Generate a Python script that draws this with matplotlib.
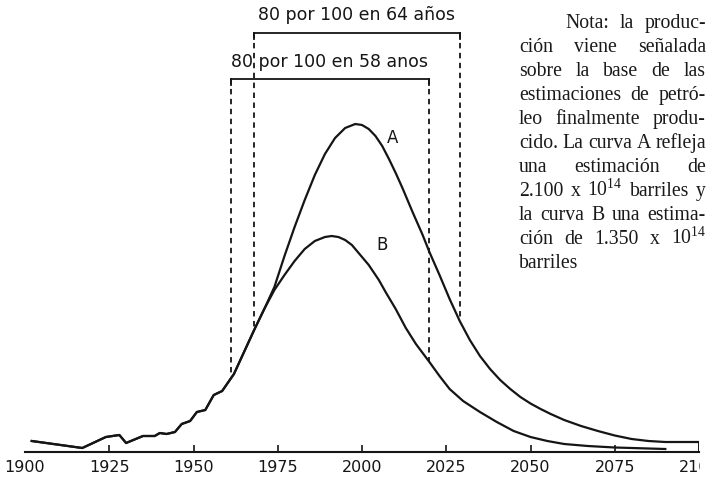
import numpy as np
import matplotlib
matplotlib.use('Agg')
from matplotlib import pyplot as plt
from matplotlib.transforms import Bbox

plt.rcParams['mathtext.fontset'] = 'custom'
plt.rcParams['mathtext.rm'] = 'Liberation Serif'

# Producción histórica (común a las dos curvas), unidades arbitrarias
anos_hist = [1902, 1917, 1924, 1928, 1930, 1935, 1938.5, 1940, 1942, 1944.5,
             1946.5, 1949, 1951, 1953.5, 1956, 1958.5, 1962]
prod_hist = [11, 4, 15, 17, 9, 16, 16, 19, 18, 20, 28, 31, 40, 42, 57, 61, 78]

# Curva A (2.100 x 10^14 barriles)
anos_a = [1962, 1965, 1968, 1971, 1974, 1977, 1980, 1983, 1986, 1989, 1992, 1995,
          1998, 2000, 2002, 2004, 2006, 2008, 2010, 2012, 2015, 2018, 2020, 2023,
          2026, 2029, 2032, 2035, 2038, 2041, 2044, 2047, 2050, 2053, 2056, 2060,
          2065, 2070, 2075, 2080, 2085, 2090, 2095, 2100]
prod_a = [78, 100, 122, 143, 165, 196, 225, 252, 277, 298, 314, 324,
          328, 327, 323, 316, 306, 293, 279, 264, 240, 217, 200, 177,
          153, 131, 112, 96, 83, 72, 63, 55, 48.5, 43, 38, 32,
          26, 21, 16.5, 13, 11, 10, 10, 10]

# Curva B (1.350 x 10^14 barriles)
anos_b = [1962, 1965, 1968, 1971, 1974, 1977, 1980, 1983, 1986, 1989, 1991, 1993,
          1995, 1997, 1999, 2002, 2005, 2007, 2010, 2013, 2016, 2020, 2023, 2026,
          2030, 2035, 2040, 2045, 2050, 2055, 2060, 2067, 2075, 2085, 2090]
prod_b = [78, 100, 122, 143, 162, 177, 191, 203, 211, 215, 216, 215,
          212, 207, 199, 187, 172, 160, 143, 124, 108, 90, 76, 63,
          51, 40, 30, 21, 15, 11, 8, 6, 4.5, 3.5, 3]

# Intervalos del 80 por 100 de la producción
intervalo_a = [1968, 2029]
intervalo_b = [1961, 2020]
texto_a = '80 por 100 en 64 años'
texto_b = '80 por 100 en 58 anos'

anos_ticks = [1900, 1925, 1950, 1975, 2000, 2025, 2050, 2075, 2100]

nota_lineas = [
    'Nota: la produc-',
    'ción viene señalada',
    'sobre la base de las',
    'estimaciones de petró-',
    'leo finalmente produ-',
    'cido. La curva A refleja',
    'una estimación de',
    '2.100 x 10$^{14}$ barriles y',
    'la curva B una estima-',
    'ción de 1.350 x 10$^{14}$',
    'barriles',
]

W, H = 717, 481
tinta = '#151515'
fig = plt.figure(figsize=(W / 100, H / 100), dpi=100)
ax = fig.add_axes([25 / W, (H - 453) / H, 674 / W, 453 / H])
ax.set_xlim(1900, 2100)
ax.set_ylim(0, 453)

# curvas
anos_ha = anos_hist + anos_a[1:]
prod_ha = prod_hist + prod_a[1:]
anos_hb = anos_hist + anos_b[1:]
prod_hb = prod_hist + prod_b[1:]
ax.plot(anos_hb, prod_hb, color=tinta, lw=1.6, solid_joinstyle='round')
ax.plot(anos_ha, prod_ha, color=tinta, lw=1.6, solid_joinstyle='round')
ax.vlines(anos_a[-1], 0, prod_a[-1], color=tinta, lw=1.4)

# lineas discontinuas y corchetes
guion = (0, (3, 2.5))
for (x0, x1), yb, txt, yt, ax_, py in [(intervalo_a, 419, texto_a, 438, anos_ha, prod_ha),
                                       (intervalo_b, 373, texto_b, 391, anos_hb, prod_hb)]:
    for x in (x0, x1):
        yc = np.interp(x, ax_, py)
        ax.plot([x, x], [yb, yc], color=tinta, lw=1.3, ls=guion)
        ax.plot([x, x], [yb, yb - 6], color=tinta, lw=1.3)
    ax.plot([x0, x1], [yb, yb], color=tinta, lw=1.3)
    ax.text((x0 + x1) / 2, yt, txt, ha='center', va='center', fontsize=12.5,
            family='DejaVu Sans', color=tinta)

ax.text(2009, 315, 'A', fontsize=12, ha='center', va='center', color=tinta)
ax.text(2006, 208, 'B', fontsize=12, ha='center', va='center', color=tinta)

# eje
for lado in ['left', 'right', 'top']:
    ax.spines[lado].set_visible(False)
ax.spines['bottom'].set_linewidth(1.5)
ax.spines['bottom'].set_color(tinta)
ax.set_yticks([])
ax.set_xticks(anos_ticks)
ax.set_xticklabels([str(a) for a in anos_ticks], fontsize=11.5, color=tinta)
ax.tick_params(axis='x', direction='in', length=5, width=1.2, pad=5, colors=tinta)
ticks = ax.xaxis.get_major_ticks()
ticks[0].tick1line.set_visible(False)
ticks[-1].tick1line.set_visible(False)
ticks[-1].label1.set_clip_box(Bbox([[0, 0], [700, H]]))
ticks[-1].label1.set_clip_on(True)

# nota justificada
izq, der, sangria = 519, 706, 565
base0, paso = 28, 24
fig.canvas.draw()
r = fig.canvas.get_renderer()
for i, linea in enumerate(nota_lineas):
    yb = 1 - (base0 + i * paso) / H
    palabras = linea.split(' ')
    x_ini = sangria if i == 0 else izq
    txts = [fig.text(0, yb, p, fontsize=14.2, family='Liberation Serif',
                     va='baseline', ha='left', color='#1a1a1a') for p in palabras]
    anchos = [t.get_window_extent(r).width for t in txts]
    if i == len(nota_lineas) - 1 or len(palabras) == 1:
        hueco = 4
    else:
        hueco = max(2.5, (der - x_ini - sum(anchos)) / (len(palabras) - 1))
    x = x_ini
    for t, w in zip(txts, anchos):
        t.set_x(x / W)
        x += w + hueco

fig.savefig('out.png', dpi=100)
